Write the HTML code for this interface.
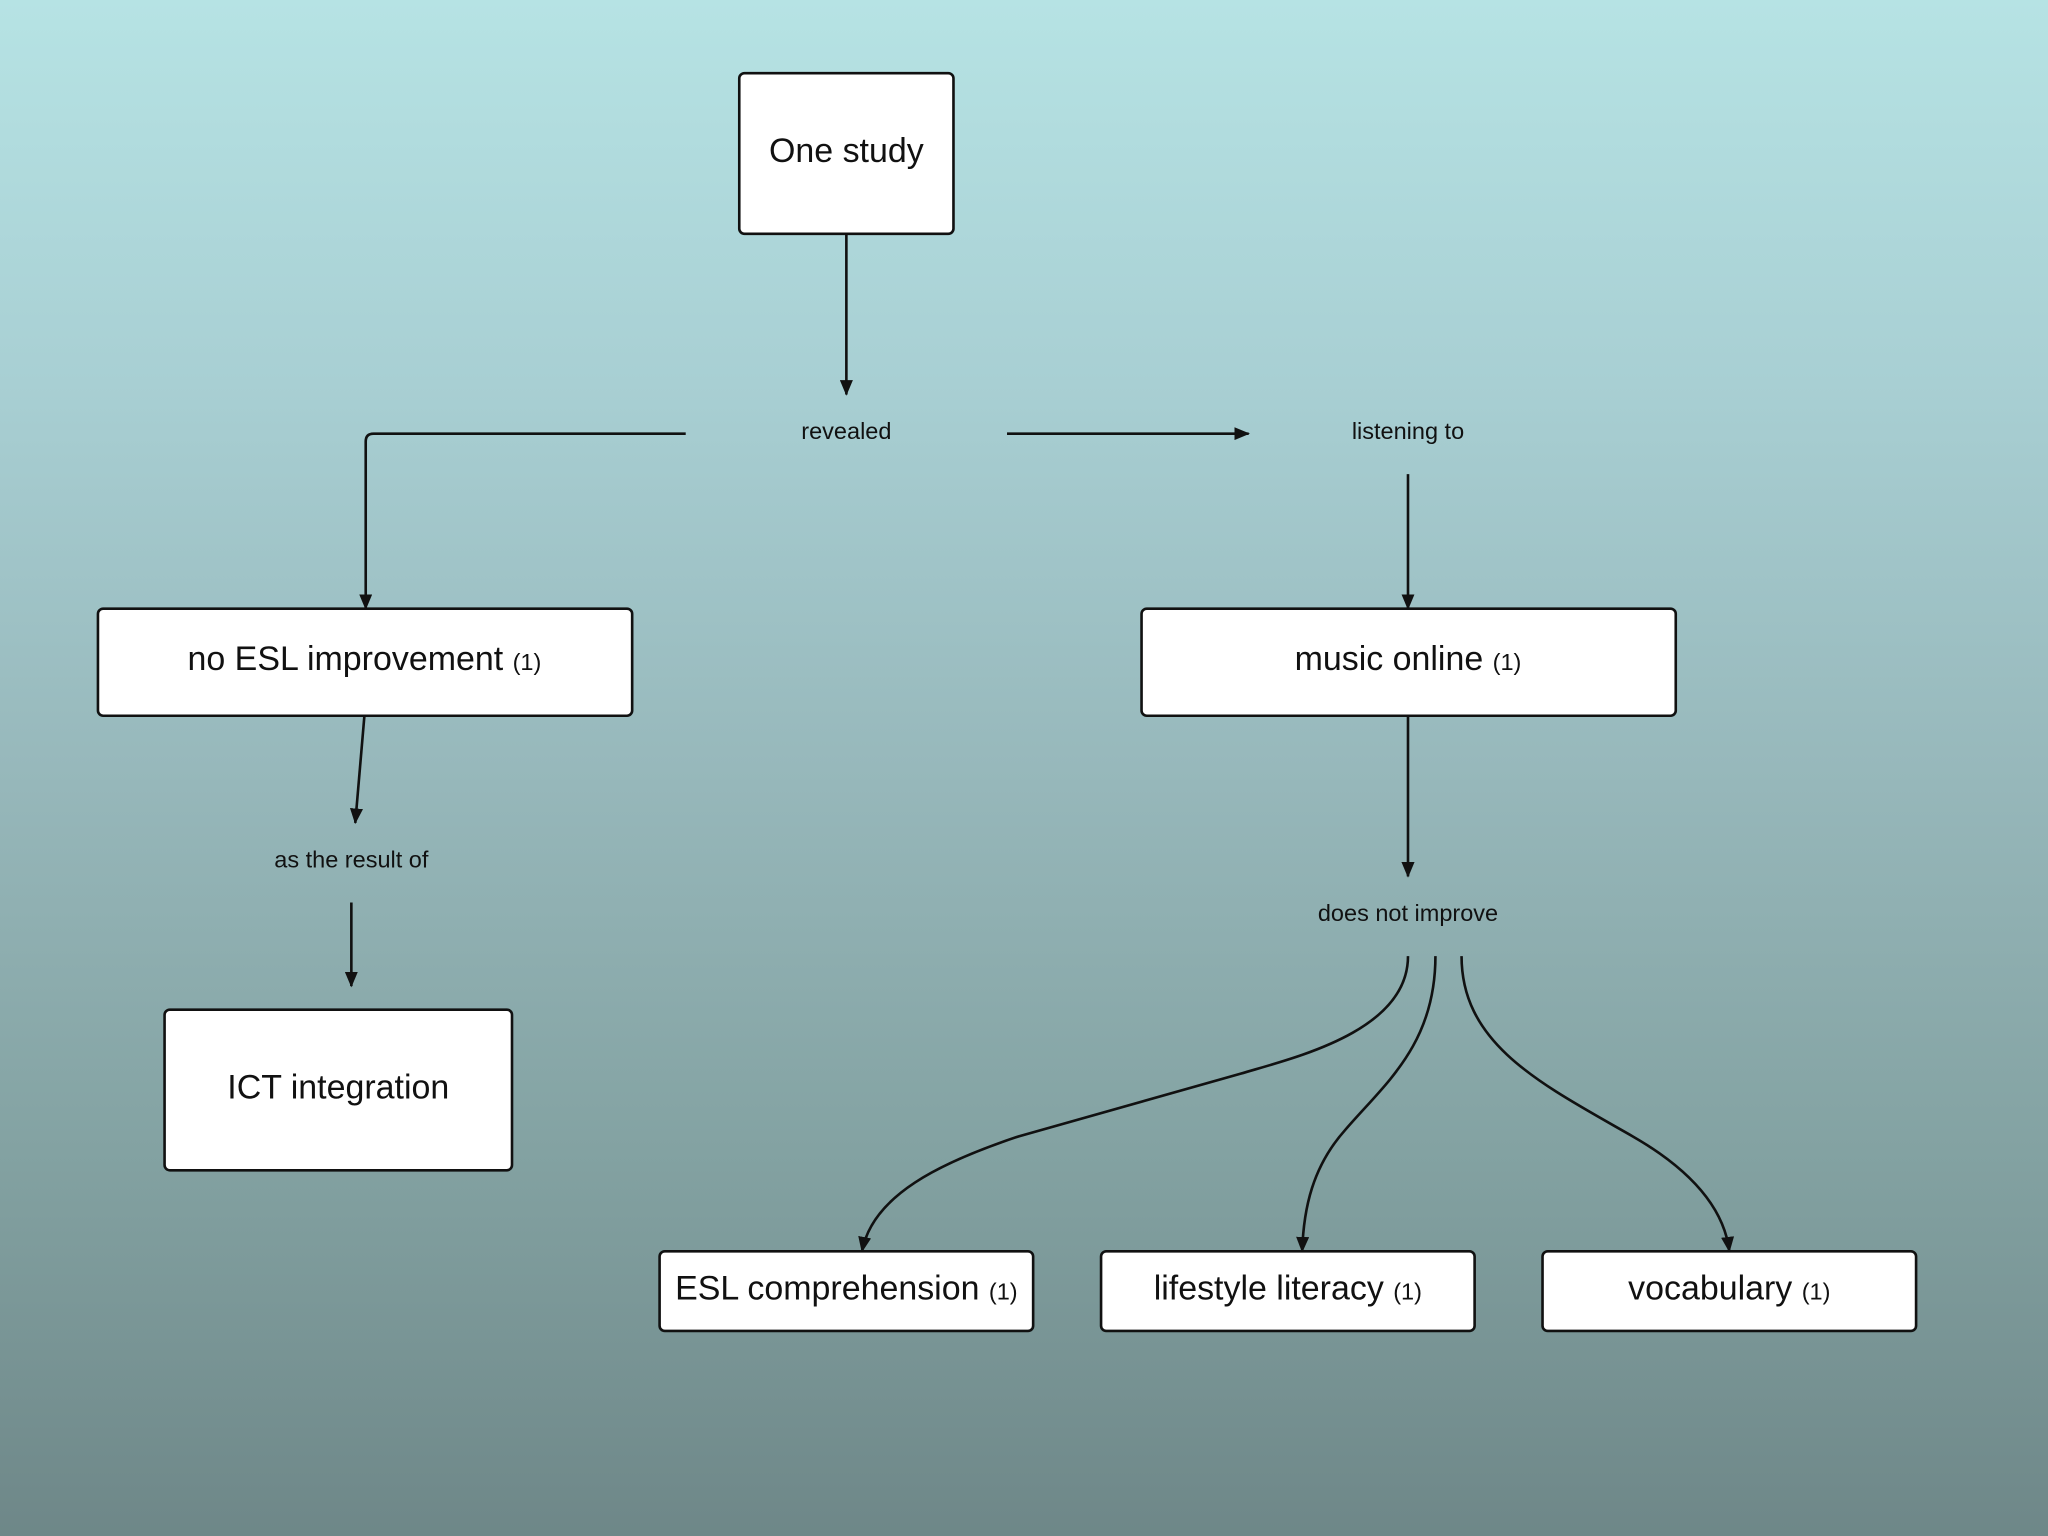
<!DOCTYPE html>
<html><head><meta charset="utf-8"><style>
html,body{margin:0;padding:0;width:2048px;height:1536px;overflow:hidden}
body{background:linear-gradient(#b6e3e4 0%,#a8cfd3 25%,#97b8bb 50%,#83a2a2 75%,#6e8788 100%)}
svg{display:block}
text{font-family:"Liberation Sans",sans-serif;fill:#111}
</style></head><body>
<svg width="2048" height="1536" viewBox="0 0 1568 1176" preserveAspectRatio="none" xmlns="http://www.w3.org/2000/svg">
<defs><marker id="a" markerWidth="12" markerHeight="10" refX="11" refY="5" orient="auto" markerUnits="userSpaceOnUse"><path d="M0,0 L12,5 L0,10 Z" fill="#111"/></marker></defs>
<g fill="#fff" stroke="#111" stroke-width="2">
<rect x="566" y="56" width="164" height="123" rx="4"/>
<rect x="75" y="466" width="409" height="82" rx="4"/>
<rect x="874" y="466" width="409" height="82" rx="4"/>
<rect x="126" y="773" width="266" height="123" rx="4"/>
<rect x="505" y="958" width="286" height="61" rx="4"/>
<rect x="843" y="958" width="286" height="61" rx="4"/>
<rect x="1181" y="958" width="286" height="61" rx="4"/>
</g>
<g fill="none" stroke="#111" stroke-width="2" marker-end="url(#a)">
<path d="M648,179 V302"/>
<path d="M525,332 H286 Q280,332 280,338 V466"/>
<path d="M771,332 H956"/>
<path d="M1078,363 V466"/>
<path d="M279,548 L272,630"/>
<path d="M269,691 V755"/>
<path d="M1078,548 V671"/>
<path d="M1078,732 C1078,790 990,810 950,822 L780,870 C720,890 668,915 660,958"/>
<path d="M1099,732 C1099,800 1060,830 1030,865 C1005,893 998,925 997,958"/>
<path d="M1119,732 C1119,800 1180,830 1250,870 C1295,896 1320,925 1324,958"/>
</g>
<g text-anchor="middle">
<text x="648" y="124" font-size="26">One study</text>
<text x="279" y="513" font-size="26">no ESL improvement <tspan font-size="18">(1)</tspan></text>
<text x="1078" y="513" font-size="26">music online <tspan font-size="18">(1)</tspan></text>
<text x="259" y="841" font-size="26">ICT integration</text>
<text x="648" y="995" font-size="26">ESL comprehension <tspan font-size="18">(1)</tspan></text>
<text x="986" y="995" font-size="26">lifestyle literacy <tspan font-size="18">(1)</tspan></text>
<text x="1324" y="995" font-size="26">vocabulary <tspan font-size="18">(1)</tspan></text>
<text x="648" y="336" font-size="18">revealed</text>
<text x="1078" y="336" font-size="18">listening to</text>
<text x="269" y="664" font-size="18">as the result of</text>
<text x="1078" y="705" font-size="18">does not improve</text>
</g>
</svg>
</body></html>
